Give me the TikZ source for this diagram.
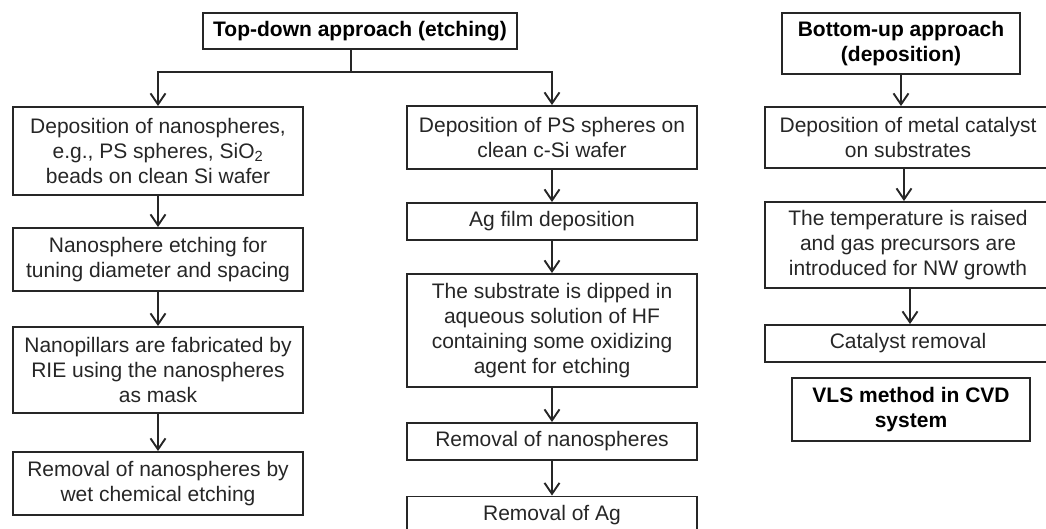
\documentclass[tikz,border=0pt]{standalone}
\usepackage{fontspec}
\setmainfont{Liberation Sans}
\usetikzlibrary{arrows.meta}

\tikzset{
  stepbox/.style={draw=black!85,line width=1.9pt,align=center,inner sep=0pt,
    text=black!85,font=\fontsize{21}{25}\selectfont},
  headbox/.style={stepbox,text=black,font=\fontsize{21}{25}\selectfont\bfseries},
  flow/.style={draw=black!85,line width=1.9pt,-{Straight Barb[length=11pt,width=15pt,line width=1.9pt]}}
}

\begin{document}
\begin{tikzpicture}[x=1pt,y=-1pt]
  \useasboundingbox (0,0) rectangle (1046,529);

  % top-down approach
  \node[headbox,minimum width=314pt,minimum height=36pt] (top) at (360,31) {Top-down approach (etching)};
  \coordinate (split) at (351,72);

  % left branch
  \node[stepbox,minimum width=290pt,minimum height=88pt] (l1) at (158,151)
    {Deposition of nanospheres,\\ e.g., PS spheres, SiO\textsubscript{2}\\ beads on clean Si wafer};
  \node[stepbox,minimum width=290pt,minimum height=63pt] (l2) at (158,259.5)
    {Nanosphere etching for\\ tuning diameter and spacing};
  \node[stepbox,minimum width=290pt,minimum height=86pt] (l3) at (158,370)
    {Nanopillars are fabricated by\\ RIE using the nanospheres\\ as mask};
  \node[stepbox,minimum width=290pt,minimum height=63pt] (l4) at (158,483.5)
    {Removal of nanospheres by\\ wet chemical etching};

  % middle branch
  \node[stepbox,minimum width=290pt,minimum height=63pt] (m1) at (552,137.5)
    {Deposition of PS spheres on\\ clean c-Si wafer};
  \node[stepbox,minimum width=290pt,minimum height=37pt] (m2) at (552,221.5)
    {Ag film deposition};
  \node[stepbox,minimum width=290pt,minimum height=113pt] (m3) at (552,330.5)
    {The substrate is dipped in\\ aqueous solution of HF\\ containing some oxidizing\\ agent for etching};
  \node[stepbox,minimum width=290pt,minimum height=37pt] (m4) at (552,441.5)
    {Removal of nanospheres};
  \node[stepbox,minimum width=290pt,minimum height=37pt] (m5) at (552,515)
    {Removal of Ag};

  % bottom-up approach
  \node[headbox,minimum width=238pt,minimum height=61pt] (bot) at (901,43.5)
    {Bottom-up approach\\ (deposition)};
  \node[stepbox,minimum width=286pt,minimum height=61pt] (r1) at (908,137.5)
    {Deposition of metal catalyst\\ on substrates};
  \node[stepbox,minimum width=286pt,minimum height=86pt] (r2) at (908,245)
    {The temperature is raised\\ and gas precursors are\\ introduced for NW growth};
  \node[stepbox,minimum width=286pt,minimum height=37pt] (r3) at (908,343.5)
    {Catalyst removal};
  \node[headbox,minimum width=238pt,minimum height=63pt] (vls) at (911,409.5)
    {VLS method in CVD\\ system};

  % connectors
  \draw[draw=black!85,line width=1.9pt] (top.south -| split) -- (split);
  \draw[flow] (split) -| (l1.north);
  \draw[flow] (split) -| (m1.north);
  \draw[flow] (l1) -- (l2);
  \draw[flow] (l2) -- (l3);
  \draw[flow] (l3) -- (l4);
  \draw[flow] (m1) -- (m2);
  \draw[flow] (m2) -- (m3);
  \draw[flow] (m3) -- (m4);
  \draw[flow] (m4) -- (m5);
  \draw[flow] (bot.south) -- (bot.south |- r1.north);
  \draw[flow] ([xshift=-4pt]r1.south) -- ([xshift=-4pt]r2.north);
  \draw[flow] ([xshift=2pt]r2.south) -- ([xshift=2pt]r3.north);
\end{tikzpicture}
\end{document}
